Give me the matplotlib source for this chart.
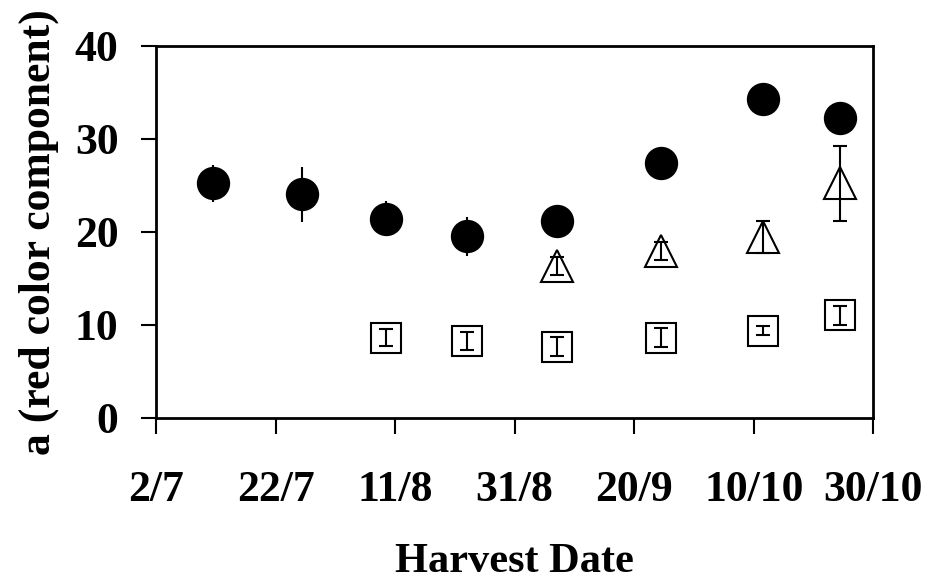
import matplotlib
matplotlib.use("Agg")
import matplotlib.pyplot as plt

# Harvest timing, expressed as days after 2 July
harvest_day = [9.5, 24.5, 38.5, 52, 67, 84.5, 101.5, 114.5]
tick_day = [0, 20, 40, 60, 80, 100, 120]
tick_labels = ["2/7", "22/7", "11/8", "31/8", "20/9", "10/10", "30/10"]

# Filled circles
circle_day = harvest_day
circle_a = [25.2, 24.0, 21.4, 19.5, 21.2, 27.4, 34.3, 32.2]
circle_err = [2.0, 3.0, 1.9, 2.1, 0.8, 0.8, 0.8, 0.8]

# Open squares
square_day = harvest_day[2:]
square_a = [8.6, 8.25, 7.65, 8.6, 9.35, 11.0]
square_err = [0.9, 1.0, 1.0, 1.0, 0.5, 1.0]

# Open triangles
triangle_day = harvest_day[4:]
triangle_a = [16.3, 17.9, 19.4, 25.2]
triangle_err = [0.95, 0.95, 1.7, 4.0]

plt.rcParams["font.family"] = ["Liberation Serif", "DejaVu Serif"]
plt.rcParams["font.weight"] = "bold"

fig = plt.figure(figsize=(9.29, 5.88), dpi=100)
ax = fig.add_axes([0.1679, 0.2896, 0.7722, 0.6327])

err_style = dict(ecolor="black", elinewidth=1.5, capsize=5.2, capthick=1.5,
                 linestyle="none")

ax.errorbar(circle_day, circle_a, yerr=circle_err, fmt="o", ms=24,
            mfc="black", mec="black", mew=0, **err_style)
ax.errorbar(square_day, square_a, yerr=square_err, fmt="s", ms=21,
            mfc="none", mec="black", mew=1.5, **err_style)
ax.errorbar(triangle_day, triangle_a, yerr=triangle_err, fmt="^", ms=22.5,
            mfc="none", mec="black", mew=1.5, **err_style)

ax.set_xlim(0, 120)
ax.set_ylim(0, 40)
ax.set_xticks(tick_day)
ax.set_xticklabels(tick_labels)
ax.set_yticks([0, 10, 20, 30, 40])

for side in ax.spines.values():
    side.set_linewidth(2)
    side.set_color("black")

ax.tick_params(axis="x", direction="out", length=11.3, width=1.5,
               labelsize=31.5, pad=26)
ax.tick_params(axis="y", direction="out", length=11, width=1.5,
               labelsize=31.5, pad=16)

ax.set_xlabel("Harvest Date", fontsize=30.5, fontweight="bold", labelpad=24)
ax.set_ylabel("a (red color component)", fontsize=31.5, fontweight="bold",
              labelpad=11)

fig.savefig("out.png", dpi=100)
